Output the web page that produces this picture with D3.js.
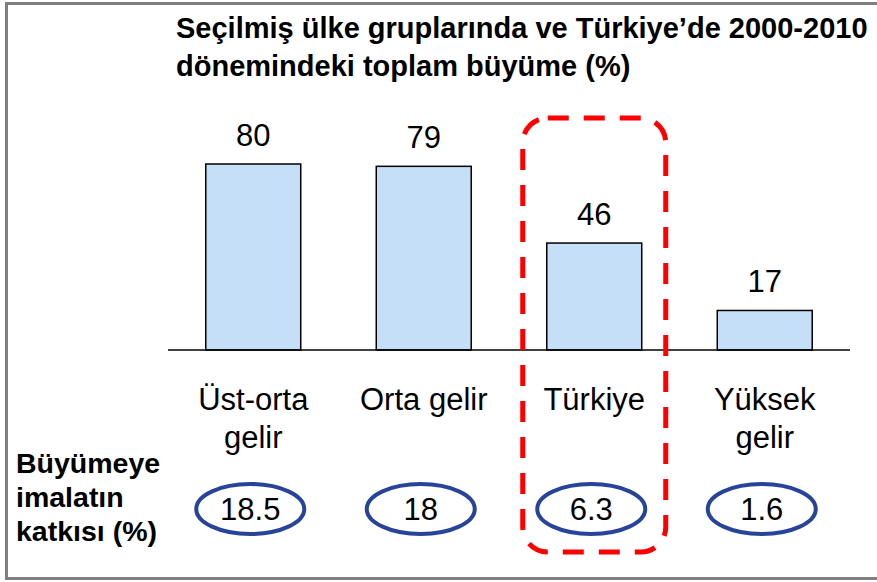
<!DOCTYPE html>
<html lang="tr">
<head>
  <meta charset="UTF-8" />
  <title>Toplam büyüme 2000-2010</title>
  <style>
    html, body { margin: 0; padding: 0; background: #fff; }
    svg { display: block; font-family: "Liberation Sans", Arial, sans-serif; }
    .bar { fill: #c6dff8; stroke: #000; stroke-width: 1.5px; }
    .val { font-size: 31px; fill: #000; text-anchor: middle; }
    .cat { font-size: 31px; fill: #000; text-anchor: middle; }
    .title { font-size: 29px; font-weight: bold; fill: #000; }
    .side { font-size: 28.5px; font-weight: bold; fill: #000; }
    .contrib { font-size: 31px; fill: #000; text-anchor: middle; }
  </style>
</head>
<body>
  <svg width="877" height="582"></svg>
  <script src="https://d3js.org/d3.v7.min.js"></script>
  <script>
    // data
    const categories = [["Üst-orta", "gelir"], ["Orta gelir"], ["Türkiye"], ["Yüksek", "gelir"]];
    const growth = [80, 79, 46, 17];
    const contribution = ["18.5", "18", "6.3", "1.6"];
    const titleLines = ["Seçilmiş ülke gruplarında ve Türkiye’de 2000-2010", "dönemindeki toplam büyüme (%)"];
    const sideLabel = ["Büyümeye", "imalatın", "katkısı (%)"];
    const highlight = "Türkiye";

    const svg = d3.select("svg");
    const keys = categories.map(c => c.join(" "));

    const x = d3.scaleBand().domain(keys).range([168, 850]).paddingInner(0.443).paddingOuter(0.2215);
    const y = d3.scaleLinear().domain([0, 80]).range([350, 164]);

    // outer frame (right edge runs off the picture)
    svg.append("rect")
      .attr("x", 6.5).attr("y", 3.5)
      .attr("width", 900).attr("height", 575)
      .attr("fill", "none").attr("stroke", "#7f7f7f").attr("stroke-width", 3);

    svg.append("g").selectAll("text")
      .data(titleLines)
      .join("text")
      .attr("class", "title")
      .attr("x", 176)
      .attr("y", (d, i) => 38 + i * 38)
      .text(d => d);

    svg.append("g").selectAll("rect")
      .data(growth)
      .join("rect")
      .attr("class", "bar")
      .attr("x", (d, i) => x(keys[i]))
      .attr("y", d => y(d))
      .attr("width", x.bandwidth())
      .attr("height", d => y(0) - y(d));

    svg.append("line")
      .attr("x1", 168).attr("x2", 850)
      .attr("y1", y(0)).attr("y2", y(0))
      .attr("stroke", "#000").attr("stroke-width", 1.5);

    svg.append("g").selectAll("text")
      .data(growth)
      .join("text")
      .attr("class", "val")
      .attr("x", (d, i) => x(keys[i]) + x.bandwidth() / 2)
      .attr("y", d => y(d) - 18)
      .text(d => d);

    const cat = svg.append("g").selectAll("text")
      .data(categories)
      .join("text")
      .attr("class", "cat")
      .attr("x", (d, i) => x(keys[i]) + x.bandwidth() / 2)
      .attr("y", 410);
    cat.selectAll("tspan")
      .data(d => d)
      .join("tspan")
      .attr("x", function () { return this.parentNode.getAttribute("x"); })
      .attr("dy", (d, i) => i ? 38 : 0)
      .text(d => d);

    // contribution of manufacturing, in ellipses
    const ell = svg.append("g").selectAll("g")
      .data(contribution)
      .join("g")
      .attr("transform", (d, i) => `translate(${x(keys[i]) + x.bandwidth() / 2 - 3},509)`);
    ell.append("ellipse")
      .attr("rx", 54).attr("ry", 25)
      .attr("fill", "none").attr("stroke", "#27449a").attr("stroke-width", 4);
    ell.append("text")
      .attr("class", "contrib")
      .attr("y", 11)
      .text(d => d);

    svg.append("g").selectAll("text")
      .data(sideLabel)
      .join("text")
      .attr("class", "side")
      .attr("x", 16)
      .attr("y", (d, i) => 473 + i * 34)
      .text(d => d);

    // red dashed box around Türkiye
    const hx = x(highlight) + x.bandwidth() / 2;
    svg.append("rect")
      .attr("x", hx - 71.5).attr("y", 118)
      .attr("width", 143).attr("height", 434)
      .attr("rx", 25).attr("ry", 25)
      .attr("fill", "none").attr("stroke", "#ff0000")
      .attr("stroke-width", 5).attr("stroke-dasharray", "21 15");
  </script>
</body>
</html>
